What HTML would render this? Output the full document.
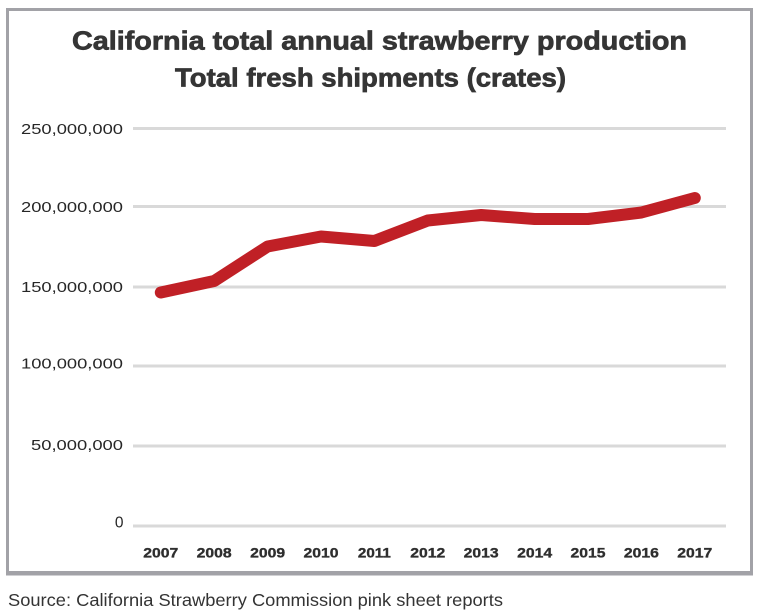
<!DOCTYPE html>
<html>
<head>
<meta charset="utf-8">
<style>
  html, body { margin: 0; padding: 0; background: #ffffff; }
  body { width: 760px; height: 616px; overflow: hidden; }
  svg { display: block; }
</style>
</head>
<body>
<svg width="760" height="616" viewBox="0 0 760 616" xmlns="http://www.w3.org/2000/svg">
  <rect x="0" y="0" width="760" height="616" fill="#ffffff"/>
  <!-- frame -->
  <rect x="7.5" y="9.5" width="744" height="563" fill="none" stroke="#a2a2a7" stroke-width="3"/>
  <line x1="6" y1="573.5" x2="753" y2="573.5" stroke="#a2a2a7" stroke-width="4"/>

  <!-- title -->
  <g font-family="'Liberation Sans', sans-serif" font-weight="bold" fill="#353535" stroke="#353535" stroke-width="0.7" font-size="26">
    <text x="72" y="49.5" textLength="615" lengthAdjust="spacingAndGlyphs">California total annual strawberry production</text>
    <text x="175" y="86.5" textLength="391" lengthAdjust="spacingAndGlyphs">Total fresh shipments (crates)</text>
  </g>

  <!-- gridlines -->
  <g stroke="#d9d9d9" stroke-width="3">
    <line x1="133" y1="128.5" x2="726" y2="128.5"/>
    <line x1="133" y1="206.5" x2="726" y2="206.5"/>
    <line x1="133" y1="287" x2="726" y2="287"/>
    <line x1="133" y1="366" x2="726" y2="366"/>
    <line x1="133" y1="446" x2="726" y2="446"/>
    <line x1="133" y1="526" x2="726" y2="526"/>
  </g>

  <!-- y labels -->
  <g font-family="'Liberation Sans', sans-serif" fill="#262626" font-size="14.5" text-anchor="end">
    <text x="123" y="134" textLength="102" lengthAdjust="spacingAndGlyphs">250,000,000</text>
    <text x="123" y="212" textLength="102" lengthAdjust="spacingAndGlyphs">200,000,000</text>
    <text x="123" y="292" textLength="102" lengthAdjust="spacingAndGlyphs">150,000,000</text>
    <text x="123" y="368.5" textLength="102" lengthAdjust="spacingAndGlyphs">100,000,000</text>
    <text x="123" y="450" textLength="92" lengthAdjust="spacingAndGlyphs">50,000,000</text>
    <text x="123.5" y="527.5" font-size="15.5">0</text>
  </g>

  <!-- x labels -->
  <g font-family="'Liberation Sans', sans-serif" font-weight="bold" fill="#2e2e2e" stroke="#2e2e2e" stroke-width="0.35" font-size="14" text-anchor="middle">
    <text x="160.8" y="557.5" textLength="35" lengthAdjust="spacingAndGlyphs">2007</text>
    <text x="214.2" y="557.5" textLength="35" lengthAdjust="spacingAndGlyphs">2008</text>
    <text x="267.6" y="557.5" textLength="35" lengthAdjust="spacingAndGlyphs">2009</text>
    <text x="321" y="557.5" textLength="35" lengthAdjust="spacingAndGlyphs">2010</text>
    <text x="374.4" y="557.5" textLength="33" lengthAdjust="spacingAndGlyphs">2011</text>
    <text x="427.8" y="557.5" textLength="35" lengthAdjust="spacingAndGlyphs">2012</text>
    <text x="481.2" y="557.5" textLength="35" lengthAdjust="spacingAndGlyphs">2013</text>
    <text x="534.6" y="557.5" textLength="35" lengthAdjust="spacingAndGlyphs">2014</text>
    <text x="588" y="557.5" textLength="35" lengthAdjust="spacingAndGlyphs">2015</text>
    <text x="641.4" y="557.5" textLength="35" lengthAdjust="spacingAndGlyphs">2016</text>
    <text x="694.8" y="557.5" textLength="35" lengthAdjust="spacingAndGlyphs">2017</text>
  </g>

  <!-- series -->
  <polyline fill="none" stroke="#c02026" stroke-width="12" stroke-linecap="round" stroke-linejoin="round"
    points="160.8,292.5 214.2,281 267.6,246.5 321,236.5 374.4,241 427.8,220.5 481.2,215 534.6,219 588,219 641.4,212.5 694.8,198"/>

  <!-- source -->
  <text x="8" y="606" font-family="'Liberation Sans', sans-serif" font-size="17.5" fill="#333333" textLength="495" lengthAdjust="spacingAndGlyphs">Source: California Strawberry Commission pink sheet reports</text>
</svg>
</body>
</html>
